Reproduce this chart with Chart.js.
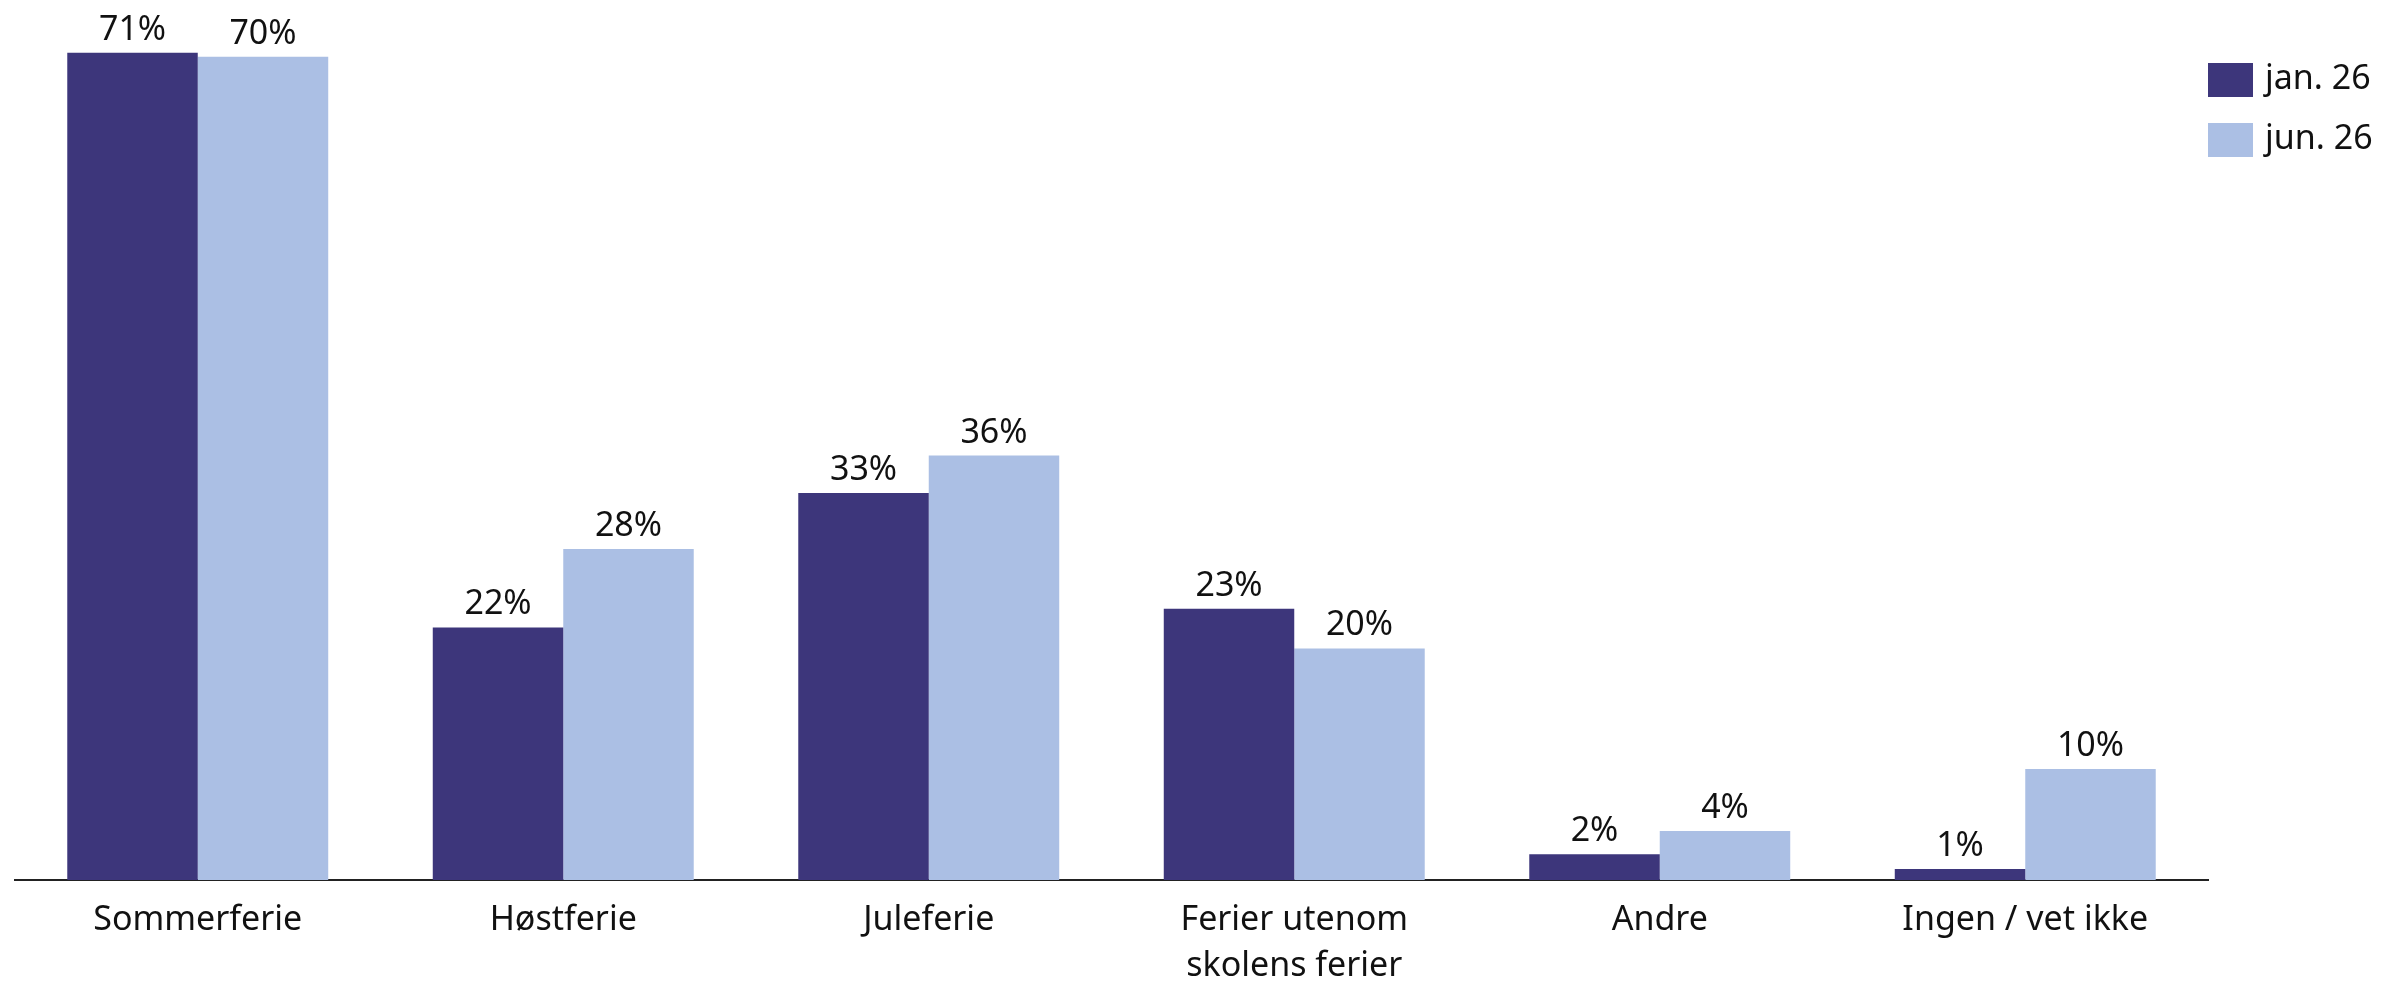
<!DOCTYPE html>
<html>
<head>
<meta charset="utf-8">
<script src="https://cdn.jsdelivr.net/npm/chart.js@4/dist/chart.umd.min.js"></script>
<style>
  html, body { margin: 0; padding: 0; background: #fff; }
  #wrap { position: relative; width: 2382px; height: 983px; }
</style>
</head>
<body>
<div id="wrap"><canvas id="chart"></canvas></div>
<script>
const categories = ['Sommerferie', 'Høstferie', 'Juleferie', ['Ferier utenom', 'skolens ferier'], 'Andre', 'Ingen / vet ikke'];
const seriesNames = ['jan. 26', 'jun. 26'];
// anslått fra søylehøydene, etikettene vises avrundet
const jan26 = [70.75, 21.6, 33.1, 23.2, 2.2, 0.94];
const jun26 = [70.4, 28.3, 36.3, 19.8, 4.2, 9.5];
const yMax = 75;

const DARK = '#3D367B';
const LIGHT = '#ABBFE4';
const FONT = "'Noto Sans', sans-serif";

// verdietiketter over søylene
const valueLabels = {
  id: 'valueLabels',
  afterDatasetsDraw(chart) {
    const ctx = chart.ctx;
    ctx.save();
    ctx.font = '34px ' + FONT;
    ctx.fillStyle = '#111';
    ctx.textAlign = 'center';
    ctx.textBaseline = 'alphabetic';
    chart.data.datasets.forEach((ds, i) => {
      const meta = chart.getDatasetMeta(i);
      meta.data.forEach((bar, j) => {
        ctx.fillText(Math.round(ds.data[j]) + '%', bar.x, bar.y - 13);
      });
    });
    ctx.restore();
  }
};

// egen forklaring til høyre for plottet
const sideLegend = {
  id: 'sideLegend',
  afterDraw(chart) {
    const ctx = chart.ctx;
    const x = chart.chartArea.right;
    ctx.save();
    ctx.font = '34px ' + FONT;
    ctx.textBaseline = 'middle';
    chart.data.datasets.forEach((ds, i) => {
      const y = 63 + i * 60;
      ctx.fillStyle = ds.backgroundColor;
      ctx.fillRect(x, y, 45, 34);
      ctx.fillStyle = '#111';
      ctx.fillText(ds.label, x + 57, y + 16);
    });
    ctx.restore();
  }
};

new Chart(document.getElementById('chart').getContext('2d'), {
  type: 'bar',
  data: {
    labels: categories,
    datasets: [
      { label: seriesNames[0], data: jan26, backgroundColor: DARK },
      { label: seriesNames[1], data: jun26, backgroundColor: LIGHT }
    ]
  },
  options: {
    responsive: true,
    maintainAspectRatio: false,
    animation: false,
    layout: { padding: { left: 15, right: 174, top: 3, bottom: 0 } },
    datasets: {
      bar: { categoryPercentage: 0.714, barPercentage: 1.0 }
    },
    scales: {
      x: {
        grid: { display: false, drawTicks: false },
        border: { display: true, color: '#222', width: 2 },
        ticks: {
          color: '#111',
          padding: 17,
          autoSkip: false,
          maxRotation: 0,
          font: { family: FONT, size: 34, lineHeight: 1.36 }
        },
        afterFit(scale) { scale.height = 103; }
      },
      y: {
        display: false,
        min: 0,
        max: yMax
      }
    },
    plugins: {
      legend: { display: false },
      tooltip: { enabled: false }
    }
  },
  plugins: [valueLabels, sideLegend]
});
</script>
</body>
</html>
